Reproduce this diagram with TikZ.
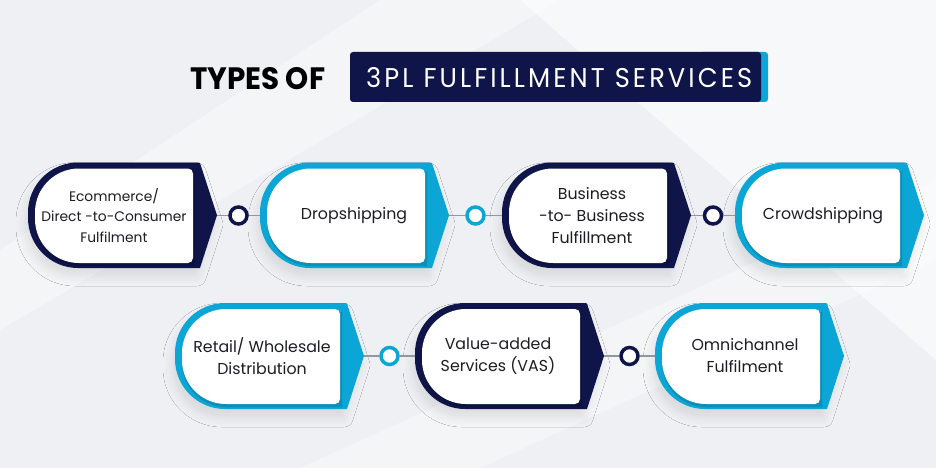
\documentclass[tikz,border=0pt]{standalone}
\usepackage{fontspec}
\setmainfont{Poppins}
\usetikzlibrary{shadows.blur}
\definecolor{navy}{HTML}{0F1549}
\definecolor{cyanb}{HTML}{0BA6D5}
\definecolor{bg}{HTML}{EEF0F4}
\definecolor{linegray}{HTML}{9097A0}
\definecolor{txt}{HTML}{1C1C24}
\tikzset{
  boxtext/.style={align=center, text=txt, inner sep=0pt, font=\fontsize{15.8}{22}\selectfont},
  smalltext/.style={boxtext, font=\fontsize{13.8}{20.5}\selectfont},
  dotnavy/.style={circle, draw=navy, fill=white, line width=3.5pt, minimum size=17pt, inner sep=0pt},
  dotcyan/.style={circle, draw=cyanb, fill=white, line width=3.5pt, minimum size=17pt, inner sep=0pt},
  conn/.style={draw=linegray, line width=1.4pt},
  cardshadow/.style={blur shadow={shadow xshift=-3pt, shadow yshift=-9pt, shadow opacity=9, shadow blur radius=9pt}}
}
% #1 left x, #2 top y, #3 bottom y (pixel units, y downward), #4 colour
\newcommand\flowcard[4]{%
  \fill[#4, cardshadow] ({#1+170},{-#2}) arc[start angle=90,end angle=60,radius=4] -- ({#1+189},{-(#2+#3)/2}) -- ({#1+172},{-#3}) -- ({#1+50},{-#3}) arc[start angle=270,end angle=180,radius=50] -- (#1,{-#2-50}) arc[start angle=180,end angle=90,radius=50] -- cycle;
  \fill[#4!70!black, opacity=0.45] ({#1+7+44},{-#2-9}) -- ({#1+167},{-#2-9}) -- ({#1+167},{-#3+2}) -- ({#1+7+44},{-#3+2}) arc[start angle=270,end angle=180,radius=44] -- ({#1+7},{-#2-9-44}) arc[start angle=180,end angle=90,radius=44] -- cycle;
  \fill[white] ({#1+7+44},{-#2-6}) -- ({#1+160},{-#2-6}) arc[start angle=90,end angle=0,radius=5] -- ({#1+165},{-#3+10}) arc[start angle=0,end angle=-90,radius=5] -- ({#1+7+44},{-#3+5}) arc[start angle=270,end angle=180,radius=44] -- ({#1+7},{-#2-6-44}) arc[start angle=180,end angle=90,radius=44] -- cycle;
}
\begin{document}
\begin{tikzpicture}[x=1pt,y=1pt]
\useasboundingbox (0,0) rectangle (936,-468);
% background
\fill[bg] (0,0) rectangle (936,-468);
\fill[white, opacity=0.55] (520,0) -- (936,0) -- (936,-360) -- cycle;
\fill[white, opacity=0.35] (0,-250) -- (380,0) -- (560,0) -- (0,-330) -- cycle;
\fill[white, opacity=0.35] (300,-468) -- (936,-180) -- (936,-260) -- (480,-468) -- cycle;

% title
\node[anchor=base west, inner sep=0pt] (typesof) at (190,-90) {\resizebox{135pt}{22pt}{\bfseries TYPES OF}};
\fill[cyanb, rounded corners=3pt] (700,-52) rectangle (768,-102);
\fill[navy, rounded corners=3pt] (350,-52) rectangle (761,-102);
\node[anchor=base west, inner sep=0pt, text=white] (banner) at (366,-88) {\resizebox{386pt}{20pt}{\addfontfeature{LetterSpace=12}3PL FULFILLMENT SERVICES}};

% row 1 cards
\flowcard{28}{162.5}{268}{navy}
\flowcard{260}{162.5}{268}{cyanb}
\flowcard{502}{162.5}{268}{navy}
\flowcard{735}{162.5}{268}{cyanb}
% row 2 cards
\flowcard{175}{303}{409}{cyanb}
\flowcard{415}{303}{409}{navy}
\flowcard{655}{303}{409}{cyanb}

% texts
\node[smalltext] (t1) at (114,-215.5) {Ecommerce/\\Direct -to-Consumer\\Fulfilment};
\node[boxtext] (t2) at (354,-215.5) {Dropshipping};
\node[boxtext] (t3) at (592,-215.5) {Business\\-to- Business\\Fulfillment};
\node[boxtext] (t4) at (823,-215.5) {Crowdshipping};
\node[boxtext] (t5) at (262,-356) {Retail/ Wholesale\\Distribution};
\node[boxtext] (t6) at (498,-356) {Value-added\\Services (VAS)};
\node[boxtext] (t7) at (745,-356) {Omnichannel\\Fulfilment};

% connector endpoints
\coordinate (tip1) at (217,-215.5);
\coordinate (in2) at (260,-215.5);
\coordinate (tip2) at (449,-215.5);
\coordinate (in3) at (502,-215.5);
\coordinate (tip3) at (691,-215.5);
\coordinate (in4) at (735,-215.5);
\coordinate (tip5) at (364,-356);
\coordinate (in6) at (415,-356);
\coordinate (tip6) at (604,-356);
\coordinate (in7) at (655,-356);

\node[dotnavy] (c1) at (238.5,-215.5) {};
\node[dotcyan] (c2) at (475.5,-215.5) {};
\node[dotnavy] (c3) at (713,-215.5) {};
\node[dotcyan] (c4) at (389.5,-356) {};
\node[dotnavy] (c5) at (629.5,-356) {};

\draw[conn] (tip1) -- (c1) (c1) -- (in2);
\draw[conn] (tip2) -- (c2) (c2) -- (in3);
\draw[conn] (tip3) -- (c3) (c3) -- (in4);
\draw[conn] (tip5) -- (c4) (c4) -- (in6);
\draw[conn] (tip6) -- (c5) (c5) -- (in7);
\end{tikzpicture}
\end{document}
